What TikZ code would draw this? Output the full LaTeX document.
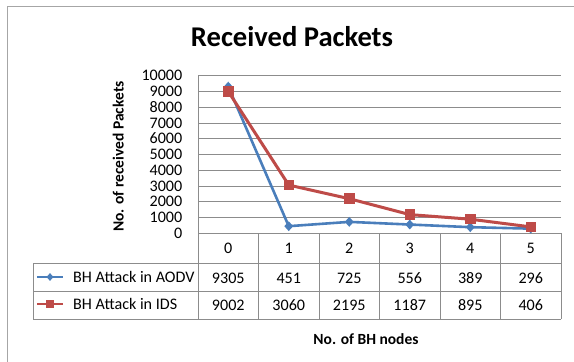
\documentclass[tikz,border=0pt]{standalone}
\usepackage{fontspec}
\setmainfont{Carlito}
\usetikzlibrary{shapes.geometric}
\definecolor{aodvblue}{HTML}{4A7EBB}
\definecolor{idsred}{HTML}{BE4B48}
\definecolor{gridgray}{HTML}{8C8C8C}
\definecolor{framegray}{HTML}{A6A6A6}
\begin{document}
\begin{tikzpicture}[x=1pt,y=-1pt,
  gridline/.style={draw=gridgray,line width=0.9pt},
  cellrule/.style={draw=gridgray,line width=0.9pt},
  txt/.style={font=\fontsize{16.1}{18}\selectfont,inner sep=0pt},
  lbl/.style={font=\bfseries\fontsize{15.5}{18}\selectfont,inner sep=0pt},
  aodvline/.style={draw=aodvblue,line width=2.6pt,line join=round},
  idsline/.style={draw=idsred,line width=3pt,line join=round},
  aodvmark/.style={diamond,fill=aodvblue,minimum width=9pt,minimum height=10pt,inner sep=0pt},
  idsmark/.style={rectangle,fill=idsred,minimum size=10.5pt,inner sep=0pt},
  legmark/.style={rectangle,fill=idsred,minimum size=8.5pt,inner sep=0pt},
  legdiamond/.style={diamond,fill=aodvblue,minimum width=7pt,minimum height=8pt,inner sep=0pt}]
\useasboundingbox (0,0) rectangle (574,362);
\fill[white] (0,0) rectangle (574,362);
% chart frame
\draw[framegray,line width=1pt] (7,362) -- (7,6) -- (574,6);

% title
\node[font=\bfseries\fontsize{28.6}{32}\selectfont,inner sep=0pt,anchor=base] (title) at (292,46) {Received Packets};

% horizontal gridlines and value axis labels
\foreach \k in {1,...,10}{
  \draw[gridline] (198,{233.3-15.76*\k}) -- (561,{233.3-15.76*\k});
}
\foreach \k in {0,...,10}{
  \pgfmathtruncatemacro{\val}{\k*1000}
  \node[txt,anchor=base east] (ytick\k) at (182.5,{238.5-15.76*\k}) {\val};
}

% axis titles
\node[lbl,rotate=90,anchor=base] (ylabel) at (123.5,156.5) {No. of received Packets};
\node[lbl,anchor=base] (xlabel) at (366,344) {No. of BH nodes};

% data table grid
\draw[cellrule] (198,75.7) -- (198,319.3);
\draw[cellrule] (198,233.3) -- (561,233.3);
\draw[cellrule] (33,263.3) -- (561,263.3);
\draw[cellrule] (33,291.7) -- (561,291.7);
\draw[cellrule] (33,319.3) -- (561,319.3);
\draw[cellrule] (33,263.3) -- (33,319.3);
\foreach \i in {1,...,6}{
  \draw[cellrule] ({198+60.5*\i},233.3) -- ({198+60.5*\i},319.3);
}

% category headers and values
\foreach \i/\a/\b in {0/9305/9002,1/451/3060,2/725/2195,3/556/1187,4/389/895,5/296/406}{
  \node[txt,anchor=base] (cat\i) at ({228.25+60.5*\i},253.3) {\i};
  \node[txt,anchor=base] (va\i) at ({228.25+60.5*\i},283.3) {\a};
  \node[txt,anchor=base] (vb\i) at ({228.25+60.5*\i},310) {\b};
  \coordinate (a\i) at ({228.25+60.5*\i},{233.3-0.01576*\a});
  \coordinate (b\i) at ({228.25+60.5*\i},{233.3-0.01576*\b});
}

% legend entries
\coordinate (la0) at (37,277);
\coordinate (la1) at (63,277);
\coordinate (lb0) at (37,304);
\coordinate (lb1) at (63,304);
\draw[aodvline,line width=2.2pt] (la0) -- (la1);
\node[legdiamond] (lad) at (50,277) {};
\draw[idsline,line width=2.4pt] (lb0) -- (lb1);
\node[legmark] (lbs) at (50,304) {};
\node[txt,anchor=base west] (lega) at (73,282.3) {BH Attack in AODV};
\node[txt,anchor=base west] (legb) at (73,309.3) {BH Attack in IDS};

% series: BH attack in AODV
\draw[aodvline] (a0) -- (a1) -- (a2) -- (a3) -- (a4) -- (a5);
\foreach \i in {0,...,5}{
  \node[aodvmark] (ma\i) at (a\i) {};
}
% series: BH attack in IDS
\draw[idsline] (b0) -- (b1) -- (b2) -- (b3) -- (b4) -- (b5);
\foreach \i in {0,...,5}{
  \node[idsmark] (mb\i) at (b\i) {};
}
\end{tikzpicture}
\end{document}
